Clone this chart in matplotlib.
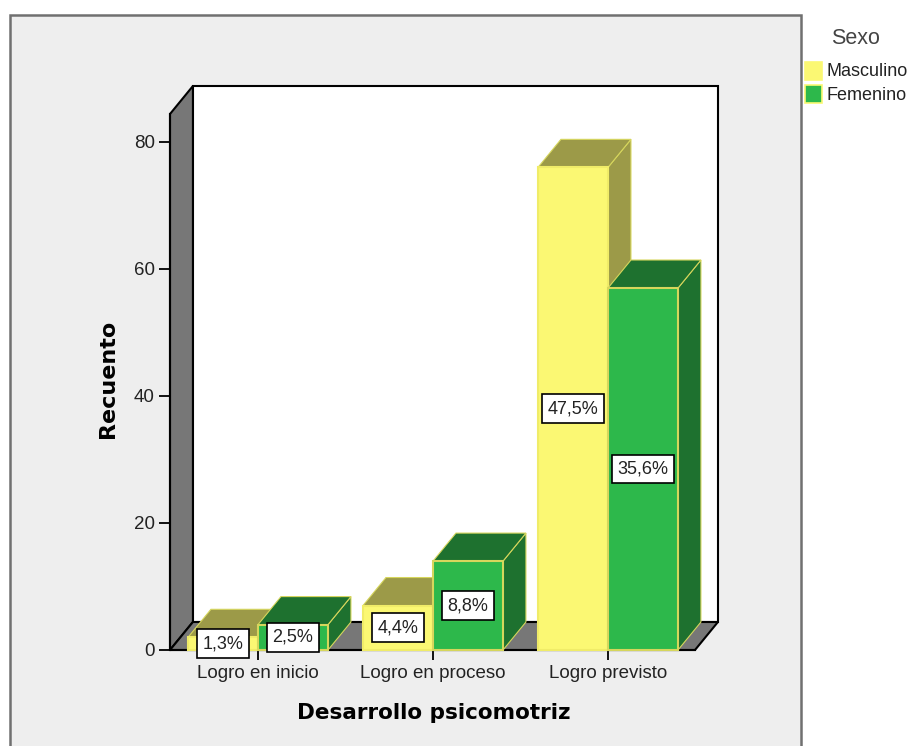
import matplotlib
matplotlib.use("Agg")
import matplotlib.pyplot as plt
from matplotlib.patches import Rectangle

plt.rcParams['font.family'] = ['Liberation Sans', 'DejaVu Sans']

# Data
categorias = ['Logro en inicio', 'Logro en proceso', 'Logro previsto']
masculino = [2, 7, 76]
femenino = [4, 14, 57]
pct_masculino = ['1,3%', '4,4%', '47,5%']
pct_femenino = ['2,5%', '8,8%', '35,6%']
yticks = [0, 20, 40, 60, 80]

W, H = 910, 746
bar_w = 0.4
dx = 0.131   # depth offset, x units
dy = 4.41    # depth offset, y units
xmin, xmax, ymax = -0.503, 2.497, 84.4

amarillo = ('#FBF873', '#9C9A48')
verde = ('#2DB84B', '#1E712F')
borde = '#D6D65C'

fig = plt.figure(figsize=(W / 100, H / 100), dpi=100, facecolor='white')

# gray panel behind the chart
fig.patches.append(Rectangle((9.5 / W, -0.01), 791 / W, 1.01 - 14.5 / H, transform=fig.transFigure,
                             facecolor='#EEEEEE', edgecolor='#707070', linewidth=1.8, zorder=-1))

ax = fig.add_axes([170 / W, 1 - 650 / H, 525 / W, 536 / H])
ax.set_xlim(xmin, xmax)
ax.set_ylim(0, ymax)
ax.patch.set_visible(False)
for s in ax.spines.values():
    s.set_visible(False)

# back wall, left wall, floor
ax.fill([xmin + dx, xmax + dx, xmax + dx, xmin + dx], [dy, dy, ymax + dy, ymax + dy],
        fc='white', ec='black', lw=1.5, clip_on=False, zorder=1)
ax.fill([xmin, xmin + dx, xmin + dx, xmin], [0, dy, ymax + dy, ymax],
        fc='#777777', ec='black', lw=1.5, clip_on=False, zorder=1)
ax.fill([xmin, xmax, xmax + dx, xmin + dx], [0, 0, dy, dy],
        fc='#777777', ec='black', lw=1.5, clip_on=False, zorder=1)


def barra(x0, h, colores, z, ec_frente):
    x1 = x0 + bar_w
    ax.fill([x1, x1 + dx, x1 + dx, x1], [0, dy, h + dy, h], fc=colores[1], ec=borde, lw=0.8,
            clip_on=False, zorder=z)
    ax.fill([x0, x1, x1 + dx, x0 + dx], [h, h, h + dy, h + dy], fc=colores[1], ec=borde, lw=0.8,
            clip_on=False, zorder=z)
    ax.fill([x0, x1, x1, x0], [0, 0, h, h], fc=colores[0], ec=ec_frente, lw=1.5,
            clip_on=False, zorder=z + 0.1)


for i in range(len(categorias)):
    barra(i - bar_w, masculino[i], amarillo, 2 + i, '#F0EC68')
    barra(i, femenino[i], verde, 2.5 + i, borde)

caja = dict(boxstyle='square,pad=0.33', fc='white', ec='black', lw=1.2)
for i in range(len(categorias)):
    ax.text(i - bar_w / 2, masculino[i] / 2, pct_masculino[i], ha='center', va='center',
            fontsize=13, color='#222222', bbox=caja, zorder=10, clip_on=False)
    ax.text(i + bar_w / 2, femenino[i] / 2, pct_femenino[i], ha='center', va='center',
            fontsize=13, color='#222222', bbox=caja, zorder=10, clip_on=False)

# front edges of the frame
ax.plot([xmin, xmin], [0, ymax], color='black', lw=1.5, clip_on=False, zorder=1.5)
ax.plot([xmin, xmax], [0, 0], color='black', lw=1.5, clip_on=False, zorder=1.5)

ax.set_yticks(yticks)
ax.set_xticks(range(len(categorias)))
ax.set_xticklabels(categorias)
ax.tick_params(axis='y', length=8, width=1.3, pad=3, labelsize=13.5, labelcolor='#222222')
ax.tick_params(axis='x', length=7, width=1.3, pad=4, labelsize=13.5, labelcolor='#222222')

fig.text(434 / W, 1 - 713 / H, 'Desarrollo psicomotriz', ha='center', va='center', fontsize=15.5,
         fontweight='bold', family='DejaVu Sans')
fig.text(108 / W, 1 - 379 / H, 'Recuento', ha='center', va='center', rotation=90, fontsize=16,
         fontweight='bold', family='DejaVu Sans')

# legend
fig.text(856 / W, 1 - 38 / H, 'Sexo', ha='center', va='center', fontsize=15.5, color='#444444')
etiquetas = ['Masculino', 'Femenino']
for k, (lab, col) in enumerate(zip(etiquetas, (amarillo, verde))):
    y = 62 + 23 * k
    fig.patches.append(Rectangle((804.5 / W, 1 - (y + 17.5) / H), 17 / W, 17.5 / H, transform=fig.transFigure,
                                 facecolor=col[0], edgecolor=amarillo[0], linewidth=1.2))
    fig.text(826 / W, 1 - (y + 10) / H, lab, ha='left', va='center', fontsize=13, color='#222222')

fig.savefig('out.png', dpi=100)
